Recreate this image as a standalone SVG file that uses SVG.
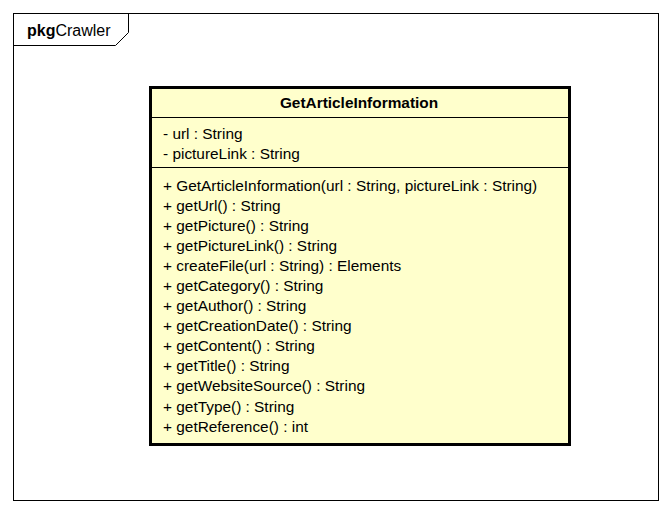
<svg xmlns="http://www.w3.org/2000/svg" width="672" height="514" viewBox="0 0 672 514">
<style>
text{font-family:"Liberation Sans",Arial,sans-serif;font-size:15.4px;fill:#000}
.b{font-weight:bold}
.frame{fill:none;stroke:#000;stroke-width:1}
.cls{fill:#ffffcc;stroke:#000;stroke-width:3}
.sep{stroke:#000;stroke-width:1}
</style>
<rect width="672" height="514" fill="#fff"/>
<g id="pkg-Crawler">
<rect class="frame" x="13.5" y="13.5" width="645" height="487"/>
<path class="frame" d="M13.5 45.5 H115.5 L128.5 32.5 V13.5"/>
<text x="27" y="36" style="font-size:16px"><tspan class="b">pkg</tspan>Crawler</text>
</g>
<g id="GetArticleInformation">
<rect class="cls" x="150.5" y="87.5" width="419" height="357"/>
<line class="sep" x1="150" y1="117.5" x2="570" y2="117.5"/>
<line class="sep" x1="150" y1="167.5" x2="570" y2="167.5"/>
<text class="b" x="359" y="108" text-anchor="middle">GetArticleInformation</text>
<text x="163" y="139">- url : String</text>
<text x="163" y="159">- pictureLink : String</text>
<text x="163" y="191">+ GetArticleInformation(url : String, pictureLink : String)</text>
<text x="163" y="211">+ getUrl() : String</text>
<text x="163" y="231">+ getPicture() : String</text>
<text x="163" y="251">+ getPictureLink() : String</text>
<text x="163" y="271">+ createFile(url : String) : Elements</text>
<text x="163" y="291">+ getCategory() : String</text>
<text x="163" y="311">+ getAuthor() : String</text>
<text x="163" y="331">+ getCreationDate() : String</text>
<text x="163" y="351">+ getContent() : String</text>
<text x="163" y="371">+ getTitle() : String</text>
<text x="163" y="391">+ getWebsiteSource() : String</text>
<text x="163" y="412">+ getType() : String</text>
<text x="163" y="432">+ getReference() : int</text>
</g>
<g id="connectors"></g>
</svg>
